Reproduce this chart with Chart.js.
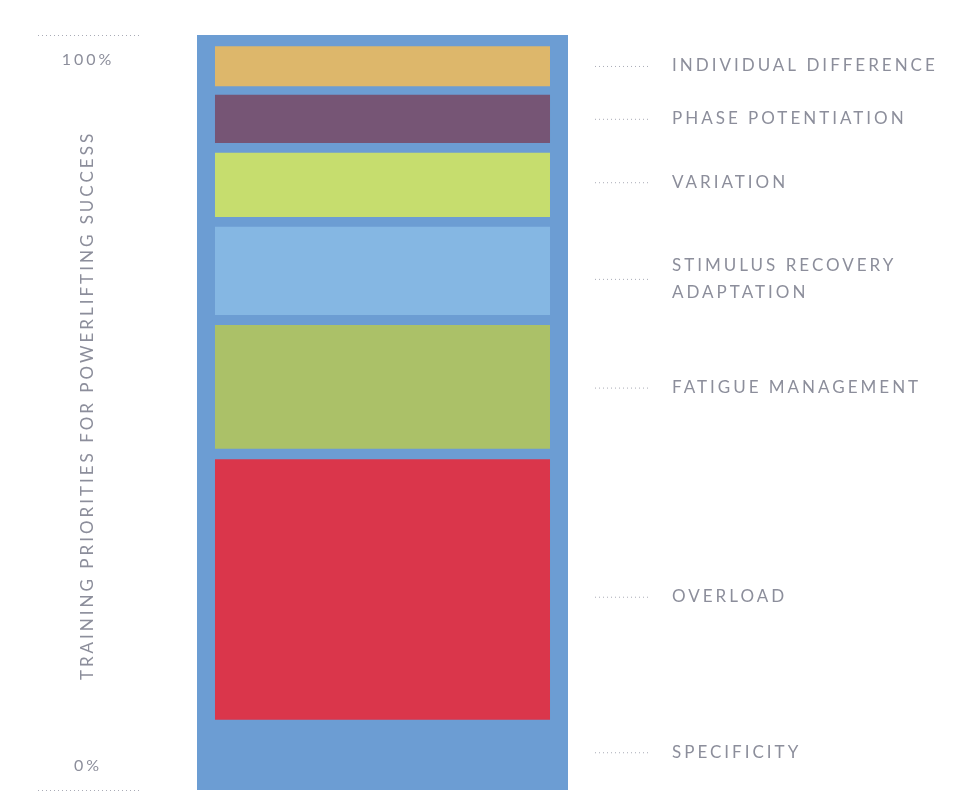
<!DOCTYPE html>
<html>
<head>
<meta charset="utf-8">
<script src="https://cdn.jsdelivr.net/npm/chart.js@4.4.1/dist/chart.umd.min.js"></script>
<style>
html,body{margin:0;padding:0;background:#fff;}
#wrap{width:960px;height:804px;position:relative;}
</style>
</head>
<body>
<div id="wrap"><canvas id="c" width="960" height="804"></canvas></div>
<script>
// Categories, top to bottom
const categories = ["INDIVIDUAL DIFFERENCE","PHASE POTENTIATION","VARIATION","STIMULUS RECOVERY ADAPTATION","FATIGUE MANAGEMENT","OVERLOAD","SPECIFICITY"];
const labelLines = [["INDIVIDUAL DIFFERENCE"],["PHASE POTENTIATION"],["VARIATION"],["STIMULUS RECOVERY","ADAPTATION"],["FATIGUE MANAGEMENT"],["OVERLOAD"],["SPECIFICITY"]];
// Floating ranges (% of total)
const lows  = [93.2, 85.7, 75.9, 62.9, 45.2, 9.3, 0];
const highs = [98.5, 92.1, 84.4, 74.6, 61.6, 43.8, 100];
// Where each side label sits (%)
const labelAt = [95.9, 88.9, 80.5, 67.7, 53.3, 25.6, 5.0];
const colors = ["#ddb76b","#765575","#c6dd6e","#85b7e3","#abc168","#da364b","#6c9dd3"];
const tickLabels = ["100%","0%"];
const tickValues = [100, 0];
const axisTitle = "TRAINING PRIORITIES FOR POWERLIFTING SUCCESS";

const FONT = "Lato, 'Open Sans', sans-serif";
const TXT = "#8c8e9b";

const datasets = categories.map((name,i)=>({
  label: name,
  data: [[lows[i], highs[i]]],
  backgroundColor: colors[i],
  borderWidth: 0,
  barPercentage: name === "SPECIFICITY" ? 1.0 : 0.903,
  categoryPercentage: 1.0
}));

function dotted(ctx, x1, y, x2){
  ctx.save();
  ctx.strokeStyle = "#a9abb6";
  ctx.lineWidth = 1;
  ctx.setLineDash([1,3]);
  ctx.beginPath();
  ctx.moveTo(x1, y+0.5);
  ctx.lineTo(x2, y+0.5);
  ctx.stroke();
  ctx.restore();
}

const decor = {
  id: 'decor',
  afterDraw(chart){
    const ctx = chart.ctx;
    const ys = chart.scales.y;
    const area = chart.chartArea;
    ctx.save();
    ctx.fillStyle = TXT;
    ctx.textBaseline = 'middle';
    ctx.font = "17px " + FONT;
    ctx.letterSpacing = "3px";
    // right side labels
    labelLines.forEach((lines,i)=>{
      const y = ys.getPixelForValue(labelAt[i]);
      dotted(ctx, area.right + 27, y, area.right + 82);
      ctx.textAlign = 'left';
      const lh = 27;
      lines.forEach((t,k)=>{
        const yy = y + (k - (lines.length-1)/2) * lh;
        ctx.fillText(t, area.right + 104, yy);
      });
    });
    // left ticks
    ctx.textAlign = 'center';
    ctx.font = "16px " + FONT;
    tickValues.forEach((v,i)=>{
      const y = ys.getPixelForValue(v);
      dotted(ctx, area.left - 159, y, area.left - 57);
      const off = v === 100 ? 25 : -24;
      ctx.fillText(tickLabels[i], area.left - 109, y + off);
    });
    // vertical title
    ctx.font = "17px " + FONT;
    ctx.translate(area.left - 109, (ys.top + ys.bottom)/2 - 7);
    ctx.rotate(-Math.PI/2);
    ctx.textAlign = 'center';
    ctx.fillText(axisTitle, 0, 0);
    ctx.restore();
  }
};

new Chart(document.getElementById('c'), {
  type: 'bar',
  data: { labels: [""], datasets },
  options: {
    responsive: false,
    animation: false,
    layout: { padding: { top: 35, bottom: 14, left: 197, right: 392 } },
    plugins: { legend: { display: false }, tooltip: { enabled: false } },
    scales: {
      x: { display: false, stacked: true },
      y: { display: false, stacked: false, min: 0, max: 100 }
    }
  },
  plugins: [decor]
});
</script>
</body>
</html>
